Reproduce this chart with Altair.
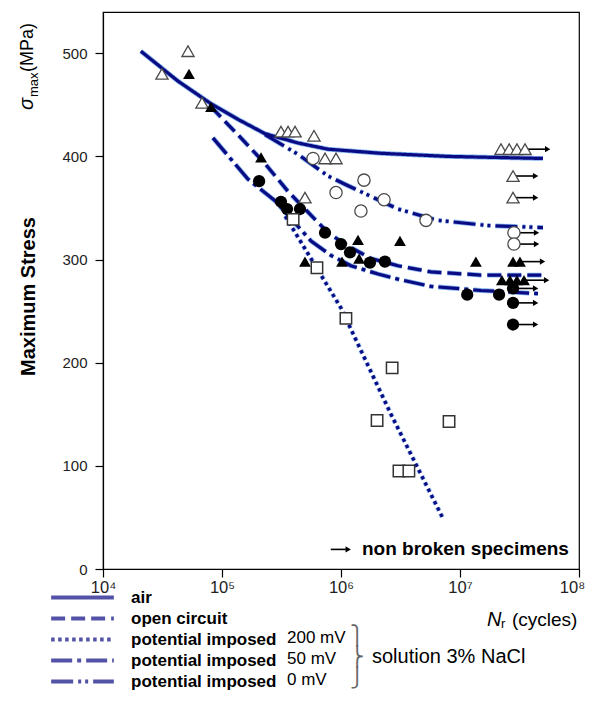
import altair as alt
import pandas as pd
import numpy as np

NAVY = "#0a0a82"
HALO = "#4a8fe6"
FONT = "Liberation Sans"

# ---------------- fitted curves (cycles, MPa) ----------------
conds = ["air", "open circuit", "200 mV", "50 mV", "0 mV"]
air_N = [2.08e4, 4.27e4, 8.09e4, 1.36e5, 2.30e5, 4.36e5, 7.78e5, 2.17e6, 7.92e6, 4.98e7]
air_S = [502, 473, 451, 436, 422, 413, 407, 403, 400, 398]
oc_N = [8.09e4, 1.36e5, 2.30e5, 3.59e5, 6.05e5, 7.78e5, 1.15e6, 1.79e6, 3.01e6, 5.70e6, 1.50e7, 4.98e7]
oc_S = [448, 421, 393, 366, 339, 326, 313, 301, 294, 288, 285, 285]
p200_N = [3.4e5, 1.0e6, 2.63e6, 7.19e6]
p200_S = [342, 253, 150, 49]
p50_N = [8.39e4, 1.65e5, 2.79e5, 4.36e5, 5.60e5, 8.24e5, 1.21e6, 2.05e6, 3.01e6, 5.70e6, 1.50e7, 4.52e7]
p50_S = [418, 378, 357, 332, 318, 304, 294, 286, 281, 274, 270, 267]
p0_N = [2.30e5, 4.36e5, 7.78e5, 1.08e6, 3.01e6, 6.53e6, 1.72e7, 4.98e7]
p0_S = [421, 402, 381, 373, 349, 338, 333, 331]
dashes = [[1, 0], [14, 6], [3.5, 3.5], [21, 5, 4, 5], [22, 5, 3, 4, 3, 5]]

# ---------------- specimens ----------------
# air : open triangles
air_pt_N = [3.13e4, 5.18e4, 6.79e4, 3.13e5, 3.59e5, 4.11e5, 5.93e5, 7.34e5, 9.08e5, 4.98e5]
air_pt_S = [480, 502, 452, 424, 424, 424, 420, 398, 398, 360]
air_run_N = [2.21e7, 2.59e7, 3.01e7, 3.52e7, 2.79e7, 2.79e7]
air_run_S = [407, 407, 407, 407, 381, 360]
# 0 mV : open circles
p0_pt_N = [5.82e5, 9.08e5, 1.56e6, 2.30e6, 1.47e6, 5.18e6]
p0_pt_S = [398, 365, 377, 358, 347, 338]
p0_run_N = [2.84e7, 2.84e7]
p0_run_S = [326, 315]
# open circuit : filled triangles
oc_pt_N = [5.28e4, 8.09e4, 2.13e5, 1.39e6, 3.13e6, 4.98e5, 1.02e6, 1.42e6, 1.36e7]
oc_pt_S = [480, 448, 399, 319, 318, 298, 298, 301, 298]
oc_run_N = [2.79e7, 3.19e7, 2.25e7, 2.63e7, 3.01e7, 3.45e7]
oc_run_S = [298, 298, 280, 280, 280, 280]
# 50 mV : filled circles
p50_pt_N = [2.05e5, 3.13e5, 3.52e5, 4.52e5, 7.34e5, 1.0e6, 1.19e6, 1.75e6, 2.34e6, 1.15e7, 2.13e7]
p50_pt_S = [376, 356, 349, 349, 326, 315, 307, 297, 298, 266, 266]
p50_run_N = [2.79e7, 2.79e7, 2.79e7]
p50_run_S = [272, 258, 237]
# 200 mV : open squares
p200_pt_N = [3.96e5, 6.28e5, 1.10e6, 2.69e6, 2.01e6, 8.09e6, 3.07e6, 3.72e6]
p200_pt_S = [339, 292, 243, 195, 144, 143, 95, 95]

# annotation arrow "non broken specimens"
note_N = [8.2e5, 1.15e6]
note_text_N = 1.5e6
note_S = 19
arrow_len_decades = 0.19

x_ticks = [1e4, 1e5, 1e6, 1e7, 1e8]
y_ticks = [0, 100, 200, 300, 400, 500]

# ---------------- tables ----------------
curve_sets = [(air_N, air_S), (oc_N, oc_S), (p200_N, p200_S), (p50_N, p50_S), (p0_N, p0_S)]
curves = pd.concat([pd.DataFrame({"N": n, "S": s, "cond": c}) for c, (n, s) in zip(conds, curve_sets)])

runs = pd.concat([
    pd.DataFrame({"N": air_run_N, "S": air_run_S, "k": "air"}),
    pd.DataFrame({"N": p0_run_N, "S": p0_run_S, "k": "p0"}),
    pd.DataFrame({"N": oc_run_N, "S": oc_run_S, "k": "oc"}),
    pd.DataFrame({"N": p50_run_N, "S": p50_run_S, "k": "p50"}),
])
arrows = runs.groupby(["k", "S"], as_index=False)["N"].max()
arrows["N2"] = arrows["N"] * 10 ** arrow_len_decades
arrows = pd.concat([arrows, pd.DataFrame({"k": ["note"], "S": [note_S], "N": [note_N[0]], "N2": [note_N[1]]})])

xs = alt.Scale(type="log", domain=[1e4, 1e8])
ys = alt.Scale(domain=[0, 540], nice=False)
sup = "['⁰','¹','²','³','⁴','⁵','⁶','⁷','⁸','⁹']"
xaxis = alt.Axis(values=x_ticks, labelExpr=f"'10' + {sup}[round(log(datum.value)/LN10)]",
                 title=None, grid=False, tickSize=8, tickWidth=1.2, domainWidth=1.2,
                 tickColor="black", domainColor="black", labelFont=FONT, labelFontSize=16.5,
                 labelColor="#222", labelPadding=2, labelFlush=False, labelOverlap=False,
                 labelOffset={"condition": {"test": "datum.value >= 1e8", "value": -7}, "value": 0})
yaxis = alt.Axis(values=y_ticks, title="Maximum Stress", grid=False, tickSize=8, tickWidth=1.2,
                 domainWidth=1.2, tickColor="black", domainColor="black", labelFont=FONT,
                 labelFontSize=15, labelColor="#222", labelPadding=8,
                 titleFont=FONT, titleFontSize=20, titleFontWeight="bold", titleColor="black",
                 titleAngle=270, titleX=-75, titleY=284, titleAlign="center", titleBaseline="middle")
X = alt.X("N:Q", scale=xs, axis=xaxis)
Y = alt.Y("S:Q", scale=ys, axis=yaxis)

dash_scale = alt.Scale(domain=conds, range=dashes)
legend = alt.Legend(orient="none", legendX=-32, legendY=574, title=None, padding=0,
                    symbolType="M-3.3,0H3.3", symbolSize=361, symbolStrokeWidth=4,
                    symbolStrokeColor=NAVY, symbolFillColor="transparent",
                    labelFont=FONT, labelFontSize=17, labelFontWeight="bold", labelColor="black",
                    labelOffset=37, rowPadding=1,
                    labelExpr="indexof(['air','open circuit'], datum.label) >= 0 ? datum.label : 'potential imposed'")
SD = alt.StrokeDash("cond:N", scale=dash_scale, legend=legend, sort=conds)

halo = alt.Chart(curves).mark_line(color=HALO, strokeWidth=4.8, opacity=0.7).encode(
    x=X, y=Y, strokeDash=SD, detail="cond:N")
main = alt.Chart(curves).mark_line(color=NAVY, strokeWidth=3.2).encode(
    x=X, y=Y, strokeDash=SD, detail="cond:N")

arrow_lines = alt.Chart(arrows).mark_rule(color="black", strokeWidth=1.6).encode(x=X, x2="N2:Q", y=Y)
arrow_heads = alt.Chart(arrows).mark_point(shape="triangle-right", filled=True, color="black",
                                           size=38, opacity=1).encode(x=alt.X("N2:Q", scale=xs, axis=xaxis), y=Y)

def pts(n, s):
    return pd.DataFrame({"N": n, "S": s})

open_tri = alt.Chart(pts(air_pt_N + air_run_N, air_pt_S + air_run_S)).mark_point(
    shape="triangle-up", filled=True, fill="white", stroke="#4a4a4a", strokeWidth=1.3, size=150, opacity=1
).encode(x=X, y=Y)
open_circ = alt.Chart(pts(p0_pt_N + p0_run_N, p0_pt_S + p0_run_S)).mark_point(
    shape="circle", filled=True, fill="white", stroke="#4a4a4a", strokeWidth=1.3, size=150, opacity=1
).encode(x=X, y=Y)
fill_tri = alt.Chart(pts(oc_pt_N + oc_run_N, oc_pt_S + oc_run_S)).mark_point(
    shape="triangle-up", filled=True, color="black", size=140, opacity=1
).encode(x=X, y=Y)
fill_circ = alt.Chart(pts(p50_pt_N + p50_run_N, p50_pt_S + p50_run_S)).mark_point(
    shape="circle", filled=True, color="black", size=150, opacity=1
).encode(x=X, y=Y)
squares = alt.Chart(pts(p200_pt_N, p200_pt_S)).mark_point(
    shape="square", filled=True, fill="white", stroke="#333333", strokeWidth=1.5, size=130, opacity=1
).encode(x=X, y=Y)

note_txt = alt.Chart(pd.DataFrame({"N": [note_text_N], "S": [note_S], "t": ["non broken specimens"]})).mark_text(
    align="left", baseline="middle", font=FONT, fontSize=19, fontWeight="bold", color="black"
).encode(x=X, y=Y, text="t:N")


def txt(s, x, y, **kw):
    return alt.Chart(pd.DataFrame({"t": [s]})).mark_text(font=FONT, color="black", **kw).encode(
        text="t:N", x=alt.value(x), y=alt.value(y))

labels = [
    txt("200 mV", 184, 626, align="left", baseline="middle", fontSize=17),
    txt("50 mV", 184, 647, align="left", baseline="middle", fontSize=17),
    txt("0 mV", 184, 668, align="left", baseline="middle", fontSize=17),
    txt("solution 3% NaCl", 269, 645, align="left", baseline="middle", fontSize=20),
    txt("N", 384, 608, align="left", baseline="middle", fontSize=20, fontStyle="italic"),
    txt("r", 398, 612, align="left", baseline="middle", fontSize=13),
    txt("(cycles)", 409, 608, align="left", baseline="middle", fontSize=19),
    txt("σ", -70, 98, align="left", baseline="alphabetic", fontSize=20, fontStyle="italic", angle=270),
    txt("max", -65, 85, align="left", baseline="alphabetic", fontSize=13, angle=270),
    txt("(MPa)", -70, 60, align="left", baseline="alphabetic", fontSize=18, angle=270),
]
brace = alt.Chart(pd.DataFrame({"t": [["⎫", "⎬", "⎭"]]})).mark_text(
    font="DejaVu Sans", fontSize=19, lineHeight=21, color="#666", align="center", baseline="middle"
).encode(text="t", x=alt.value(254), y=alt.value(624))

chart = alt.layer(halo, main, arrow_lines, arrow_heads, open_tri, open_circ, fill_tri, fill_circ,
                  squares, note_txt, *labels, brace).properties(
    width=476, height=557,
    autosize=alt.AutoSizeParams(type="none"),
    padding={"left": 95, "top": 4, "right": 10, "bottom": 121},
).configure_view(stroke="black", strokeWidth=1.2)

chart.save("out.html", embed_options={"renderer": "svg", "actions": False})
